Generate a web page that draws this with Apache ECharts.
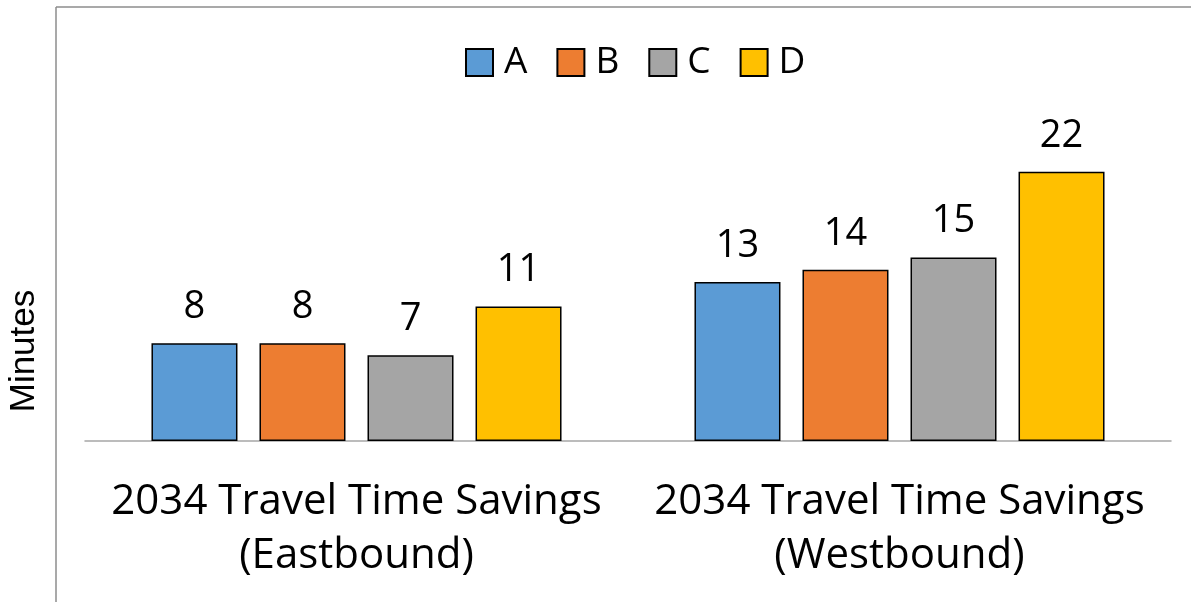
<!DOCTYPE html>
<html>
<head>
<meta charset="utf-8">
<script src="https://cdn.jsdelivr.net/npm/echarts@6/dist/echarts.min.js"></script>
<style>html,body{margin:0;padding:0;background:#fff}#c{width:1191px;height:602px}</style>
</head>
<body>
<div id="c"></div>
<script>
const categories = ['2034 Travel Time Savings\n(Eastbound)', '2034 Travel Time Savings\n(Westbound)'];
const seriesNames = ['A', 'B', 'C', 'D'];
const valuesA = [8, 13];
const valuesB = [8, 14];
const valuesC = [7, 15];
const valuesD = [11, 22];
const yAxisTitle = 'Minutes';

const colors = ['#5B9BD5', '#ED7D31', '#A5A5A5', '#FFC000'];
const allValues = [valuesA, valuesB, valuesC, valuesD];
const font = '"Open Sans", sans-serif';

const chart = echarts.init(document.getElementById('c'));
chart.setOption({
  animation: false,
  backgroundColor: '#fff',
  color: colors,
  legend: {
    data: seriesNames,
    left: 460,
    top: 39,
    itemWidth: 27,
    itemHeight: 27,
    itemGap: 29,
    icon: 'rect',
    textStyle: { fontFamily: font, fontSize: 37, color: '#000', padding: [0, 0, 0, 6] }
  },
  grid: { left: 85, right: 20, top: 74, bottom: 161 },
  xAxis: {
    type: 'category',
    data: categories,
    axisLine: { lineStyle: { color: '#a6a6a6', width: 1.5 } },
    axisTick: { show: false },
    axisLabel: { fontFamily: font, fontSize: 42, color: '#000', lineHeight: 54, margin: 34, interval: 0 }
  },
  yAxis: {
    type: 'value',
    min: 0,
    max: 30,
    show: false
  },
  series: seriesNames.map((n, i) => ({
    name: n,
    type: 'bar',
    data: allValues[i],
    barWidth: 86,
    barGap: '25.6%',
    itemStyle: { color: colors[i], borderColor: '#000', borderWidth: 1.5 },
    label: { show: true, position: 'top', distance: 17, fontFamily: font, fontSize: 38, color: '#000' }
  })),
  graphic: [
    { type: 'line', shape: { x1: 56, y1: 7, x2: 56, y2: 602 }, style: { stroke: '#8c8c8c', lineWidth: 1.5 } },
    { type: 'line', shape: { x1: 56, y1: 7, x2: 1191, y2: 7 }, style: { stroke: '#8c8c8c', lineWidth: 1.5 } },
    { type: 'text', x: 24, y: 351, rotation: Math.PI / 2,
      style: { text: yAxisTitle, font: '35px "Liberation Sans", Arial, sans-serif', fill: '#000', textAlign: 'center', textVerticalAlign: 'middle' } }
  ]
});
</script>
</body>
</html>
